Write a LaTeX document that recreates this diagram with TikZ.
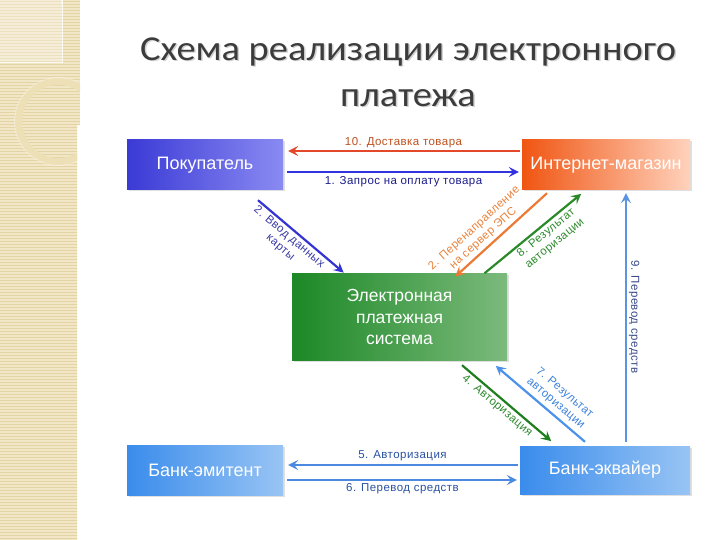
\documentclass[tikz,border=0pt]{standalone}
\usepackage{fontspec}
\setmainfont{Liberation Sans}
\newfontfamily\titlefont{Carlito}
\usetikzlibrary{arrows.meta,shadows,calc}
\definecolor{stripbg}{HTML}{F1E6C6}
\definecolor{stripln}{HTML}{E4D3A4}
\definecolor{ringc}{HTML}{EDE0B6}
\definecolor{titlec}{HTML}{3C3C3C}
\definecolor{buyL}{HTML}{3A3AD6}
\definecolor{buyR}{HTML}{8A8AF2}
\definecolor{shopL}{HTML}{F05512}
\definecolor{shopR}{HTML}{FFD2BC}
\definecolor{epsL}{HTML}{1C8826}
\definecolor{epsR}{HTML}{7CBA7C}
\definecolor{bankL}{HTML}{3A8CEC}
\definecolor{bankR}{HTML}{98C4F4}
\definecolor{a10}{HTML}{E4482A}
\definecolor{a1}{HTML}{3232E0}
\definecolor{a2b}{HTML}{3434D2}
\definecolor{a2o}{HTML}{EA7A34}
\definecolor{a8}{HTML}{2A8A2A}
\definecolor{a9}{HTML}{5A94E2}
\definecolor{a4}{HTML}{1F7F1F}
\definecolor{a7}{HTML}{4C92EA}
\definecolor{a56}{HTML}{4C8AE2}
\definecolor{t10}{HTML}{C0501C}
\definecolor{t1}{HTML}{1C1C8C}
\definecolor{t2b}{HTML}{3A3AA8}
\definecolor{t2o}{HTML}{E8823C}
\definecolor{t8}{HTML}{2E8A2E}
\definecolor{t9}{HTML}{3A4A8A}
\definecolor{t7}{HTML}{3C82DC}
\definecolor{t56}{HTML}{2A52A0}
\begin{document}
\begin{tikzpicture}[x=1pt,y=-1pt,
  box/.style={rectangle, inner sep=0pt, text=white, align=center,
    font=\fontsize{18}{22}\selectfont,
    drop shadow={shadow xshift=1.5pt, shadow yshift=-1.5pt, opacity=0.25, fill=gray}},
  conn/.style={line width=2.2pt, -{Stealth[length=10pt,width=10pt,inset=4pt]}, shorten >=1pt},
  rconn/.style={line width=2.2pt, {Stealth[length=10pt,width=10pt,inset=4pt]}-, shorten <=1pt},
  lbl/.style={font=\fontsize{11.5}{13.5}\selectfont\addfontfeature{LetterSpace=4}, inner sep=2pt, align=center},
]
\useasboundingbox (0,0) rectangle (720,540);
\fill[white] (0,0) rectangle (720,540);
% decorative strip
\begin{scope}
\clip (0,0) -- (80,0) -- (80,125) -- (77,125) -- (77,540) -- (0,540) -- cycle;
\fill[stripbg] (0,0) rectangle (80,540);
\foreach \yy in {1.5,4.5,...,540} \draw[stripln, line width=0.7pt] (0,\yy) -- (80,\yy);
\fill[white, opacity=0.3] (0,0) rectangle (62,62);
\draw[white, opacity=0.8, line width=0.8pt] (0,62) -- (62,62) -- (62,0);
\draw[white, opacity=0.6, line width=1.2pt] (62,4) arc[start angle=-4, end angle=-86, radius=58];
\draw[ringc, line width=7pt] (58.5,121.5) circle[radius=40];
\draw[white, opacity=0.4, line width=0.8pt] (58.5,121.5) circle[radius=44];
\end{scope}
% title
\node[text=gray!35, font=\titlefont\fontsize{35}{46}\selectfont, align=center] (titleshadow) at (409.5,73.5) {\scalebox{1.1}[1]{Схема реализации электронного}\\\scalebox{1.1}[1]{платежа}};
\node[text=titlec, font=\titlefont\fontsize{35}{46}\selectfont, align=center] (title) at (408,72) {\scalebox{1.1}[1]{Схема реализации электронного}\\\scalebox{1.1}[1]{платежа}};
% boxes
\node[box, minimum width=156pt, minimum height=50pt, left color=buyL, right color=buyR] (buyer) at (205,165) {Покупатель};
\node[box, minimum width=168pt, minimum height=50pt, left color=shopL, right color=shopR] (shop) at (606,165) {Интернет-магазин};
\node[box, minimum width=215pt, minimum height=87pt, left color=epsL, right color=epsR, font=\fontsize{17.5}{21.5}\selectfont] (eps) at (399.5,317) {Электронная\\платежная\\система};
\node[box, minimum width=156pt, minimum height=50pt, left color=bankL, right color=bankR] (emit) at (205,470) {Банк-эмитент};
\node[box, minimum width=170pt, minimum height=48pt, left color=bankL, right color=bankR] (acq) at (605,470) {Банк-эквайер};
% top arrows
\draw[rconn, a10] ([xshift=4pt,yshift=14pt]buyer.east) -- ([xshift=-2pt,yshift=14pt]shop.west)
  node[lbl, midway, above, text=t10] {10. Доставка товара};
\draw[conn, a1] ([xshift=4pt,yshift=-7pt]buyer.east) -- ([xshift=-2pt,yshift=-7pt]shop.west)
  node[lbl, midway, below, text=t1, yshift=-1pt] {1. Запрос на оплату товара};
% diagonals upper
\draw[conn, a2b] ([xshift=53pt,yshift=-10pt]buyer.south) -- ([xshift=-55pt]eps.north)
  node[lbl, pos=0.42, below, sloped, text=t2b] {2. Ввод данных\\карты};
\draw[rconn, a2o] ([xshift=55pt,yshift=-4pt]eps.north) -- ([xshift=-59pt,yshift=-3pt]shop.south)
  node[lbl, pos=0.38, above, sloped, text=t2o, yshift=1pt] {2. Перенаправление\\на сервер ЭПС};
\draw[conn, a8] ([xshift=85pt]eps.north) -- ([xshift=-24pt,yshift=-3pt]shop.south)
  node[lbl, pos=0.58, below, sloped, text=t8] {8. Результат\\авторизации};
% vertical
\draw[rconn, a9] ([xshift=20pt,yshift=-2pt]shop.south) -- ([xshift=21pt,yshift=4pt]acq.north)
  node[lbl, midway, above, sloped, text=t9] {9. Перевод средств};
% diagonals lower
\draw[conn, a4] ([xshift=62.5pt,yshift=-4.5pt]eps.south) -- ([xshift=-53pt,yshift=4pt]acq.north)
  node[lbl, pos=0.45, below, sloped, text=t8] {4. Авторизация};
\draw[rconn, a7] ([xshift=95.5pt,yshift=-4.5pt]eps.south) -- ([xshift=-20pt,yshift=4pt]acq.north)
  node[lbl, pos=0.6, above, sloped, text=t7, yshift=2pt] {7. Результат\\авторизации};
% bottom arrows
\draw[rconn, a56] ([xshift=4pt,yshift=5pt]emit.east) -- ([xshift=-2pt,yshift=5pt]acq.west)
  node[lbl, midway, above, text=t56, yshift=1pt] {5. Авторизация};
\draw[conn, a56] ([xshift=4pt,yshift=-10pt]emit.east) -- ([xshift=-2pt,yshift=-10pt]acq.west)
  node[lbl, midway, below, text=t56] {6. Перевод средств};
\end{tikzpicture}
\end{document}
